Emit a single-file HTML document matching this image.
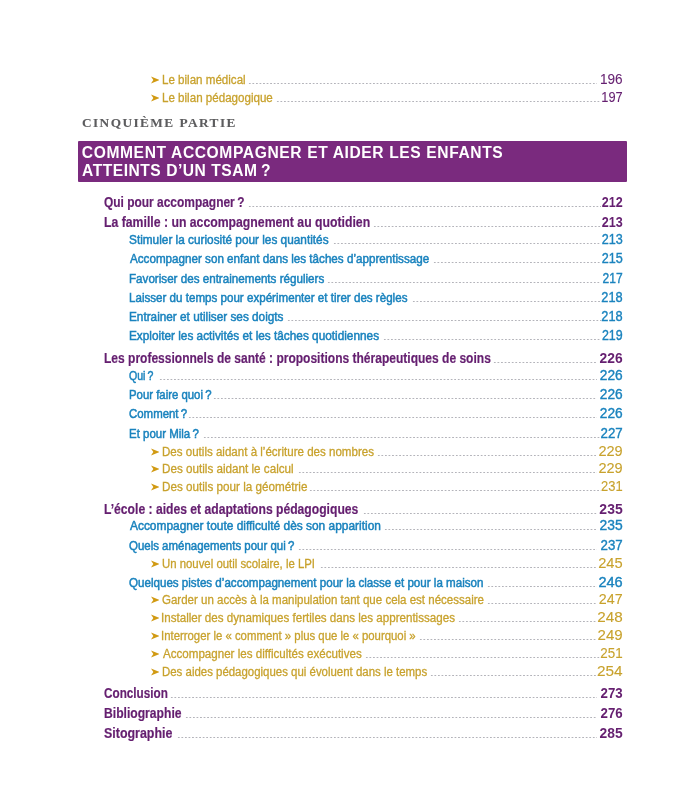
<!DOCTYPE html>
<html lang="fr">
<head>
<meta charset="utf-8">
<title>Sommaire</title>
<style>
html,body{margin:0;padding:0;background:#fff;}
body{width:700px;height:806px;position:relative;overflow:hidden;font-family:"Liberation Sans",sans-serif;}
#page{position:absolute;left:0;top:0;width:700px;height:806px;will-change:transform;}
.r{position:absolute;left:0;width:700px;height:18px;}
.t,.n{position:absolute;top:0;height:18px;line-height:18px;white-space:nowrap;}
.t{transform-origin:0 50%;}
.n{transform-origin:100% 50%;font-size:14.2px;}
.d{position:absolute;height:3px;background-image:radial-gradient(circle at center,rgba(140,140,150,0.9) 0.3px,rgba(140,140,150,0.35) 0.62px,rgba(140,140,150,0) 0.9px);background-size:3.55px 3px;background-repeat:repeat-x;background-position:left top;}
.l1 .t{font-size:14.0px;font-weight:bold;color:#651f70;-webkit-text-stroke:0.2px #651f70;}
.l2 .t{font-size:12.5px;color:#1a83be;-webkit-text-stroke:0.5px #1a83be;}
.l3 .t{font-size:12.5px;color:#c8a22d;-webkit-text-stroke:0.3px #c8a22d;}
.l1 .n{font-weight:bold;color:#651f70;}
.l2 .n{color:#1a83be;-webkit-text-stroke:0.38px #1a83be;}
.l3 .n{color:#c8a22d;-webkit-text-stroke:0.1px #c8a22d;}
.l3 .n.p{color:#651f70;-webkit-text-stroke:0.1px #651f70;}
.a{position:absolute;left:150.7px;width:8.6px;height:8px;display:block;}
.part{position:absolute;height:20px;line-height:20px;font-family:"Liberation Serif",serif;font-weight:bold;font-size:13.3px;color:#5c5c5e;-webkit-text-stroke:0.1px #5c5c5e;white-space:nowrap;transform-origin:0 50%;}
.bar{position:absolute;left:77.6px;top:140.7px;width:549.4px;height:41.1px;background:#7a2a7e;border-radius:1px;}
.h{position:absolute;height:22px;line-height:22px;font-weight:bold;font-size:15.6px;color:#fff;white-space:nowrap;transform-origin:0 50%;}

</style>
</head>
<body>
<div id="page">
<div class="part" id="part" style="left:81.95px;top:113px;letter-spacing:1.437px;transform:scaleX(1.0000)">CINQUIÈME PARTIE</div>
<div class="bar"></div>
<div class="h" id="h0" style="left:81.80px;top:142px;letter-spacing:0.612px;transform:scaleX(1.0000);color:#fff">COMMENT ACCOMPAGNER ET AIDER LES ENFANTS</div>
<div class="h" id="h1" style="left:82.05px;top:160px;letter-spacing:0.521px;transform:scaleX(1.0000);color:#fff">ATTEINTS D’UN TSAM&#8201;?</div>
<div class="r l3" style="top:71px"><svg class="a" viewBox="0 0 9.2 7.8" style="top:5.10px"><path d="M0 0.1 L9.2 3.9 L0 7.7 L2.5 3.9 Z" fill="#d19a12"/></svg><span class="t" id="t0" style="left:161.66px;transform:scaleX(0.9262)">Le bilan médical</span><span class="d" style="left:248.37px;width:348.76px;top:10.80px;background-size:3.5588px 3px"></span><span class="n p" id="n0" style="right:77.18px;top:-1px;transform:scaleX(0.9591)">196</span></div>
<div class="r l3" style="top:89px"><svg class="a" viewBox="0 0 9.2 7.8" style="top:5.10px"><path d="M0 0.1 L9.2 3.9 L0 7.7 L2.5 3.9 Z" fill="#d19a12"/></svg><span class="t" id="t1" style="left:161.66px;transform:scaleX(0.9268)">Le bilan pédagogique</span><span class="d" style="left:276.37px;width:324.77px;top:10.80px;background-size:3.5689px 3px"></span><span class="n p" id="n1" style="right:77.21px;top:-1px;transform:scaleX(0.9045)">197</span></div>
<div class="r l1" style="top:193px"><span class="t" id="t2" style="left:103.77px;transform:scaleX(0.8532)">Qui pour accompagner&#8201;?</span><span class="d" style="left:248.27px;width:352.56px;top:11.80px;background-size:3.5612px 3px"></span><span class="n" id="n2" style="right:77.23px;top:0px;transform:scaleX(0.8844)">212</span></div>
<div class="r l1" style="top:213px"><span class="t" id="t3" style="left:103.54px;transform:scaleX(0.8750)">La famille : un accompagnement au quotidien</span><span class="d" style="left:372.57px;width:228.27px;top:11.80px;background-size:3.5667px 3px"></span><span class="n" id="n3" style="right:77.44px;top:0px;transform:scaleX(0.8879)">213</span></div>
<div class="r l2" style="top:231px"><span class="t" id="t4" style="left:129.31px;transform:scaleX(0.9447)">Stimuler la curiosité pour les quantités</span><span class="d" style="left:333.17px;width:267.67px;top:10.80px;background-size:3.5689px 3px"></span><span class="n" id="n4" style="right:77.44px;top:-1px;transform:scaleX(0.8879)">213</span></div>
<div class="r l2" style="top:250px"><span class="t" id="t5" style="left:129.78px;transform:scaleX(0.9318)">Accompagner son enfant dans les tâches d’apprentissage</span><span class="d" style="left:433.17px;width:167.67px;top:10.80px;background-size:3.5674px 3px"></span><span class="n" id="n5" style="right:77.44px;top:-1px;transform:scaleX(0.8879)">215</span></div>
<div class="r l2" style="top:270px"><span class="t" id="t6" style="left:128.85px;transform:scaleX(0.9306)">Favoriser des entrainements réguliers</span><span class="d" style="left:326.57px;width:274.26px;top:10.80px;background-size:3.5618px 3px"></span><span class="n" id="n6" style="right:77.46px;top:-1px;transform:scaleX(0.8484)">217</span></div>
<div class="r l2" style="top:289px"><span class="t" id="t7" style="left:128.85px;transform:scaleX(0.9277)">Laisser du temps pour expérimenter et tirer des règles</span><span class="d" style="left:411.77px;width:189.07px;top:10.80px;background-size:3.5673px 3px"></span><span class="n" id="n7" style="right:77.44px;top:-1px;transform:scaleX(0.9011)">218</span></div>
<div class="r l2" style="top:308px"><span class="t" id="t8" style="left:128.84px;transform:scaleX(0.9423)">Entrainer et utiliser ses doigts</span><span class="d" style="left:287.47px;width:313.36px;top:10.80px;background-size:3.5609px 3px"></span><span class="n" id="n8" style="right:77.44px;top:-1px;transform:scaleX(0.9011)">218</span></div>
<div class="r l2" style="top:327px"><span class="t" id="t9" style="left:128.84px;transform:scaleX(0.9445)">Exploiter les activités et les tâches quotidiennes</span><span class="d" style="left:383.17px;width:217.67px;top:10.80px;background-size:3.5683px 3px"></span><span class="n" id="n9" style="right:77.45px;top:-1px;transform:scaleX(0.8747)">219</span></div>
<div class="r l1" style="top:349px"><span class="t" id="t10" style="left:103.56px;transform:scaleX(0.8588)">Les professionnels de santé : propositions thérapeutiques de soins</span><span class="d" style="left:493.16px;width:103.99px;top:11.80px;background-size:3.5857px 3px"></span><span class="n" id="n10" style="right:77.41px;top:0px;transform:scaleX(0.9758)">226</span></div>
<div class="r l2" style="top:367px"><span class="t" id="t11" style="left:129.12px;transform:scaleX(0.8460)">Qui&#8201;?</span><span class="d" style="left:159.47px;width:437.66px;top:10.80px;background-size:3.5582px 3px"></span><span class="n" id="n11" style="right:77.41px;top:-1px;transform:scaleX(0.9670)">226</span></div>
<div class="r l2" style="top:386px"><span class="t" id="t12" style="left:128.86px;transform:scaleX(0.9092)">Pour faire quoi&#8201;?</span><span class="d" style="left:213.17px;width:383.96px;top:10.80px;background-size:3.5551px 3px"></span><span class="n" id="n12" style="right:77.41px;top:-1px;transform:scaleX(0.9670)">226</span></div>
<div class="r l2" style="top:405px"><span class="t" id="t13" style="left:129.09px;transform:scaleX(0.9143)">Comment&#8201;?</span><span class="d" style="left:188.27px;width:408.86px;top:10.80px;background-size:3.5553px 3px"></span><span class="n" id="n13" style="right:77.41px;top:-1px;transform:scaleX(0.9670)">226</span></div>
<div class="r l2" style="top:425px"><span class="t" id="t14" style="left:128.86px;transform:scaleX(0.9183)">Et pour Mila&#8201;?</span><span class="d" style="left:202.57px;width:398.26px;top:10.80px;background-size:3.5559px 3px"></span><span class="n" id="n14" style="right:77.43px;top:-1px;transform:scaleX(0.9363)">227</span></div>
<div class="r l3" style="top:443px"><svg class="a" viewBox="0 0 9.2 7.8" style="top:5.10px"><path d="M0 0.1 L9.2 3.9 L0 7.7 L2.5 3.9 Z" fill="#d19a12"/></svg><span class="t" id="t15" style="left:161.66px;transform:scaleX(0.9244)">Des outils aidant à l’écriture des nombres</span><span class="d" style="left:376.58px;width:219.95px;top:10.80px;background-size:3.5475px 3px"></span><span class="n" id="n15" style="right:77.13px;top:-1px;transform:scaleX(1.0247)">229</span></div>
<div class="r l3" style="top:460px"><svg class="a" viewBox="0 0 9.2 7.8" style="top:5.10px"><path d="M0 0.1 L9.2 3.9 L0 7.7 L2.5 3.9 Z" fill="#d19a12"/></svg><span class="t" id="t16" style="left:161.65px;transform:scaleX(0.9333)">Des outils aidant le calcul</span><span class="d" style="left:298.17px;width:298.35px;top:10.80px;background-size:3.5518px 3px"></span><span class="n" id="n16" style="right:77.13px;top:-1px;transform:scaleX(1.0247)">229</span></div>
<div class="r l3" style="top:478px"><svg class="a" viewBox="0 0 9.2 7.8" style="top:5.10px"><path d="M0 0.1 L9.2 3.9 L0 7.7 L2.5 3.9 Z" fill="#d19a12"/></svg><span class="t" id="t17" style="left:161.65px;transform:scaleX(0.9346)">Des outils pour la géométrie</span><span class="d" style="left:309.17px;width:291.35px;top:10.80px;background-size:3.5531px 3px"></span><span class="n" id="n17" style="right:77.21px;top:-1px;transform:scaleX(0.9124)">231</span></div>
<div class="r l1" style="top:500px"><span class="t" id="t18" style="left:103.55px;transform:scaleX(0.8671)">L’école : aides et adaptations pédagogiques</span><span class="d" style="left:362.58px;width:234.25px;top:11.80px;background-size:3.5492px 3px"></span><span class="n" id="n18" style="right:77.41px;top:0px;transform:scaleX(0.9846)">235</span></div>
<div class="r l2" style="top:517px"><span class="t" id="t19" style="left:129.79px;transform:scaleX(0.9536)">Accompagner toute difficulté dès son apparition</span><span class="d" style="left:383.98px;width:212.85px;top:10.80px;background-size:3.5475px 3px"></span><span class="n" id="n19" style="right:77.41px;top:-1px;transform:scaleX(0.9758)">235</span></div>
<div class="r l2" style="top:537px"><span class="t" id="t20" style="left:129.09px;transform:scaleX(0.9168)">Quels aménagements pour qui&#8201;?</span><span class="d" style="left:298.27px;width:298.55px;top:10.80px;background-size:3.5542px 3px"></span><span class="n" id="n20" style="right:77.43px;top:-1px;transform:scaleX(0.9363)">237</span></div>
<div class="r l3" style="top:555px"><svg class="a" viewBox="0 0 9.2 7.8" style="top:5.10px"><path d="M0 0.1 L9.2 3.9 L0 7.7 L2.5 3.9 Z" fill="#d19a12"/></svg><span class="t" id="t21" style="left:161.67px;transform:scaleX(0.9101)">Un nouvel outil scolaire, le LPI</span><span class="d" style="left:319.77px;width:277.05px;top:10.80px;background-size:3.5519px 3px"></span><span class="n" id="n21" style="right:77.39px;top:-1px;transform:scaleX(1.0356)">245</span></div>
<div class="r l2" style="top:574px"><span class="t" id="t22" style="left:129.08px;transform:scaleX(0.9275)">Quelques pistes d’accompagnement pour la classe et pour la maison</span><span class="d" style="left:487.49px;width:109.33px;top:10.80px;background-size:3.5267px 3px"></span><span class="n" id="n22" style="right:77.39px;top:-1px;transform:scaleX(1.0242)">246</span></div>
<div class="r l3" style="top:591px"><svg class="a" viewBox="0 0 9.2 7.8" style="top:5.10px"><path d="M0 0.1 L9.2 3.9 L0 7.7 L2.5 3.9 Z" fill="#d19a12"/></svg><span class="t" id="t23" style="left:161.89px;transform:scaleX(0.9211)">Garder un accès à la manipulation tant que cela est nécessaire</span><span class="d" style="left:486.88px;width:109.95px;top:10.80px;background-size:3.5467px 3px"></span><span class="n" id="n23" style="right:77.15px;top:-1px;transform:scaleX(1.0067)">247</span></div>
<div class="r l3" style="top:609px"><svg class="a" viewBox="0 0 9.2 7.8" style="top:5.10px"><path d="M0 0.1 L9.2 3.9 L0 7.7 L2.5 3.9 Z" fill="#d19a12"/></svg><span class="t" id="t24" style="left:161.43px;transform:scaleX(0.9277)">Installer des dynamiques fertiles dans les apprentissages</span><span class="d" style="left:458.27px;width:138.55px;top:10.80px;background-size:3.5526px 3px"></span><span class="n" id="n24" style="right:77.10px;top:-1px;transform:scaleX(1.0742)">248</span></div>
<div class="r l3" style="top:627px"><svg class="a" viewBox="0 0 9.2 7.8" style="top:5.10px"><path d="M0 0.1 L9.2 3.9 L0 7.7 L2.5 3.9 Z" fill="#d19a12"/></svg><span class="t" id="t25" style="left:161.45px;transform:scaleX(0.9095)">Interroger le « comment » plus que le « pourquoi »</span><span class="d" style="left:419.48px;width:177.35px;top:10.80px;background-size:3.5469px 3px"></span><span class="n" id="n25" style="right:77.11px;top:-1px;transform:scaleX(1.0607)">249</span></div>
<div class="r l3" style="top:645px"><svg class="a" viewBox="0 0 9.2 7.8" style="top:5.10px"><path d="M0 0.1 L9.2 3.9 L0 7.7 L2.5 3.9 Z" fill="#d19a12"/></svg><span class="t" id="t26" style="left:162.59px;transform:scaleX(0.9265)">Accompagner les difficultés exécutives</span><span class="d" style="left:365.47px;width:235.16px;top:10.80px;background-size:3.5631px 3px"></span><span class="n" id="n26" style="right:77.19px;top:-1px;transform:scaleX(0.9438)">251</span></div>
<div class="r l3" style="top:663px"><svg class="a" viewBox="0 0 9.2 7.8" style="top:5.10px"><path d="M0 0.1 L9.2 3.9 L0 7.7 L2.5 3.9 Z" fill="#d19a12"/></svg><span class="t" id="t27" style="left:161.67px;transform:scaleX(0.9150)">Des aides pédagogiques qui évoluent dans le temps</span><span class="d" style="left:430.27px;width:166.85px;top:10.80px;background-size:3.5500px 3px"></span><span class="n" id="n27" style="right:77.37px;top:-1px;transform:scaleX(1.0844)">254</span></div>
<div class="r l1" style="top:684px"><span class="t" id="t28" style="left:103.78px;transform:scaleX(0.8373)">Conclusion</span><span class="d" style="left:170.47px;width:426.66px;top:11.80px;background-size:3.5555px 3px"></span><span class="n" id="n28" style="right:77.43px;top:0px;transform:scaleX(0.9363)">273</span></div>
<div class="r l1" style="top:704px"><span class="t" id="t29" style="left:103.55px;transform:scaleX(0.8669)">Bibliographie</span><span class="d" style="left:184.77px;width:412.35px;top:11.80px;background-size:3.5548px 3px"></span><span class="n" id="n29" style="right:77.43px;top:0px;transform:scaleX(0.9363)">276</span></div>
<div class="r l1" style="top:724px"><span class="t" id="t30" style="left:103.98px;transform:scaleX(0.8876)">Sitographie</span><span class="d" style="left:177.27px;width:419.86px;top:11.80px;background-size:3.5581px 3px"></span><span class="n" id="n30" style="right:77.41px;top:0px;transform:scaleX(0.9758)">285</span></div>
</div>
</body>
</html>
